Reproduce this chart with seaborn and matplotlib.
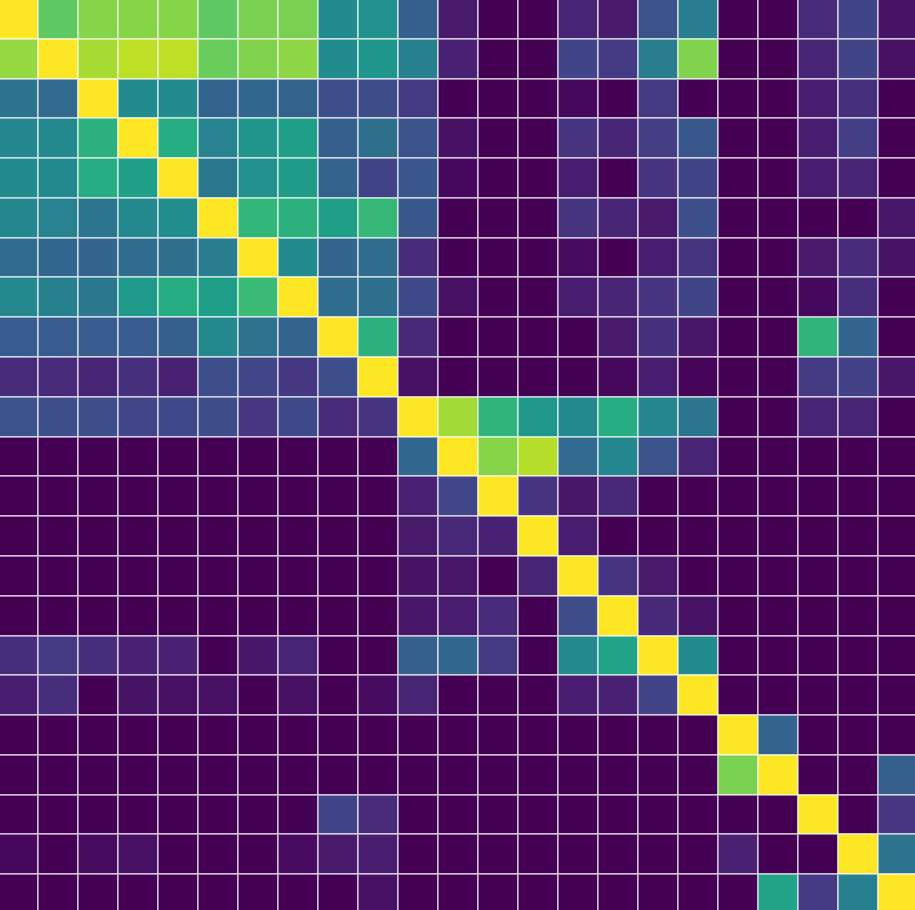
import numpy as np
import pandas as pd
import matplotlib
matplotlib.use("Agg")
import matplotlib.pyplot as plt
import seaborn as sns

# variable names (no tick labels are shown in the picture)
var_names = [f"v{i}" for i in range(23)]

# cell values, row by row (0 = dark purple, 1 = yellow)
cell_values = [
    [1.00, 0.75, 0.82, 0.82, 0.82, 0.75, 0.80, 0.80, 0.48, 0.50, 0.30, 0.07, 0.00, 0.00, 0.10, 0.07, 0.25, 0.42, 0.00, 0.00, 0.12, 0.20, 0.05],
    [0.84, 1.00, 0.87, 0.90, 0.90, 0.77, 0.81, 0.83, 0.48, 0.52, 0.43, 0.09, 0.00, 0.00, 0.20, 0.17, 0.42, 0.81, 0.00, 0.00, 0.10, 0.20, 0.04],
    [0.38, 0.34, 1.00, 0.48, 0.48, 0.32, 0.33, 0.31, 0.24, 0.23, 0.17, 0.00, 0.00, 0.00, 0.02, 0.00, 0.17, 0.00, 0.00, 0.00, 0.08, 0.14, 0.00],
    [0.46, 0.47, 0.64, 1.00, 0.62, 0.44, 0.52, 0.56, 0.30, 0.36, 0.25, 0.04, 0.00, 0.00, 0.15, 0.10, 0.18, 0.27, 0.00, 0.00, 0.08, 0.18, 0.00],
    [0.48, 0.47, 0.62, 0.56, 1.00, 0.40, 0.50, 0.55, 0.31, 0.20, 0.27, 0.02, 0.00, 0.00, 0.08, 0.00, 0.15, 0.20, 0.00, 0.00, 0.08, 0.10, 0.00],
    [0.46, 0.44, 0.39, 0.47, 0.49, 1.00, 0.66, 0.64, 0.56, 0.67, 0.27, 0.00, 0.00, 0.00, 0.15, 0.10, 0.07, 0.24, 0.00, 0.00, 0.00, 0.00, 0.06],
    [0.35, 0.33, 0.32, 0.35, 0.36, 0.42, 1.00, 0.48, 0.32, 0.35, 0.12, 0.00, 0.00, 0.00, 0.03, 0.00, 0.08, 0.15, 0.00, 0.00, 0.07, 0.12, 0.05],
    [0.47, 0.43, 0.40, 0.54, 0.62, 0.56, 0.68, 1.00, 0.35, 0.36, 0.22, 0.04, 0.00, 0.00, 0.08, 0.10, 0.15, 0.20, 0.00, 0.00, 0.02, 0.13, 0.00],
    [0.29, 0.29, 0.29, 0.29, 0.30, 0.47, 0.37, 0.32, 1.00, 0.64, 0.11, 0.00, 0.00, 0.00, 0.00, 0.07, 0.14, 0.06, 0.00, 0.00, 0.65, 0.32, 0.00],
    [0.12, 0.12, 0.10, 0.14, 0.09, 0.24, 0.21, 0.16, 0.24, 1.00, 0.04, 0.00, 0.00, 0.00, 0.00, 0.02, 0.08, 0.01, 0.00, 0.00, 0.17, 0.19, 0.06],
    [0.25, 0.24, 0.24, 0.21, 0.22, 0.23, 0.16, 0.22, 0.12, 0.15, 1.00, 0.86, 0.65, 0.53, 0.47, 0.62, 0.46, 0.39, 0.00, 0.00, 0.10, 0.10, 0.00],
    [0.00, 0.00, 0.00, 0.00, 0.00, 0.00, 0.00, 0.00, 0.00, 0.00, 0.33, 1.00, 0.82, 0.89, 0.34, 0.46, 0.25, 0.10, 0.00, 0.00, 0.00, 0.00, 0.00],
    [0.00, 0.00, 0.00, 0.00, 0.00, 0.00, 0.00, 0.00, 0.00, 0.00, 0.09, 0.21, 1.00, 0.15, 0.06, 0.11, 0.00, 0.00, 0.00, 0.00, 0.00, 0.00, 0.00],
    [0.00, 0.00, 0.00, 0.00, 0.00, 0.00, 0.00, 0.00, 0.00, 0.00, 0.07, 0.11, 0.09, 1.00, 0.08, 0.00, 0.00, 0.00, 0.00, 0.00, 0.00, 0.00, 0.00],
    [0.00, 0.00, 0.00, 0.00, 0.00, 0.00, 0.00, 0.00, 0.00, 0.00, 0.05, 0.06, 0.00, 0.10, 1.00, 0.15, 0.07, 0.00, 0.00, 0.00, 0.00, 0.00, 0.00],
    [0.00, 0.00, 0.00, 0.00, 0.00, 0.00, 0.00, 0.00, 0.00, 0.00, 0.06, 0.08, 0.12, 0.00, 0.23, 1.00, 0.11, 0.05, 0.00, 0.00, 0.00, 0.00, 0.00],
    [0.13, 0.17, 0.13, 0.09, 0.09, 0.00, 0.06, 0.10, 0.00, 0.00, 0.30, 0.33, 0.17, 0.00, 0.47, 0.58, 1.00, 0.48, 0.00, 0.00, 0.00, 0.00, 0.00],
    [0.08, 0.13, 0.00, 0.05, 0.04, 0.04, 0.00, 0.04, 0.00, 0.03, 0.10, 0.00, 0.00, 0.00, 0.08, 0.09, 0.20, 1.00, 0.00, 0.00, 0.00, 0.00, 0.00],
    [0.00, 0.00, 0.00, 0.00, 0.00, 0.00, 0.00, 0.00, 0.00, 0.00, 0.00, 0.00, 0.00, 0.00, 0.00, 0.00, 0.00, 0.00, 1.00, 0.32, 0.00, 0.00, 0.00],
    [0.00, 0.00, 0.00, 0.00, 0.00, 0.00, 0.00, 0.00, 0.00, 0.00, 0.00, 0.00, 0.00, 0.00, 0.00, 0.00, 0.00, 0.00, 0.80, 1.00, 0.00, 0.00, 0.30],
    [0.00, 0.00, 0.00, 0.00, 0.00, 0.00, 0.00, 0.00, 0.20, 0.12, 0.00, 0.00, 0.00, 0.00, 0.00, 0.00, 0.00, 0.00, 0.00, 0.00, 1.00, 0.00, 0.16],
    [0.02, 0.00, 0.03, 0.04, 0.00, 0.00, 0.00, 0.03, 0.07, 0.08, 0.00, 0.00, 0.00, 0.00, 0.00, 0.00, 0.00, 0.00, 0.09, 0.00, 0.00, 1.00, 0.38],
    [0.00, 0.00, 0.00, 0.00, 0.00, 0.00, 0.00, 0.00, 0.00, 0.04, 0.00, 0.00, 0.00, 0.00, 0.00, 0.00, 0.00, 0.00, 0.00, 0.58, 0.17, 0.43, 1.00],
]

df = pd.DataFrame(cell_values, index=var_names, columns=var_names)

# figure of 915x910 px, the heatmap fills it (edges are slightly cut off like in the picture)
fig = plt.figure(figsize=(9.15, 9.10), dpi=100)
ax = fig.add_axes([-2 / 915, -4 / 910, 920 / 915, 915 / 910])

sns.heatmap(df, ax=ax, cmap="viridis", vmin=0, vmax=1, cbar=False,
            linewidths=1.2, linecolor=(1, 1, 1, 0.5),
            xticklabels=False, yticklabels=False)
ax.axis("off")

fig.savefig("out.png", dpi=100)
